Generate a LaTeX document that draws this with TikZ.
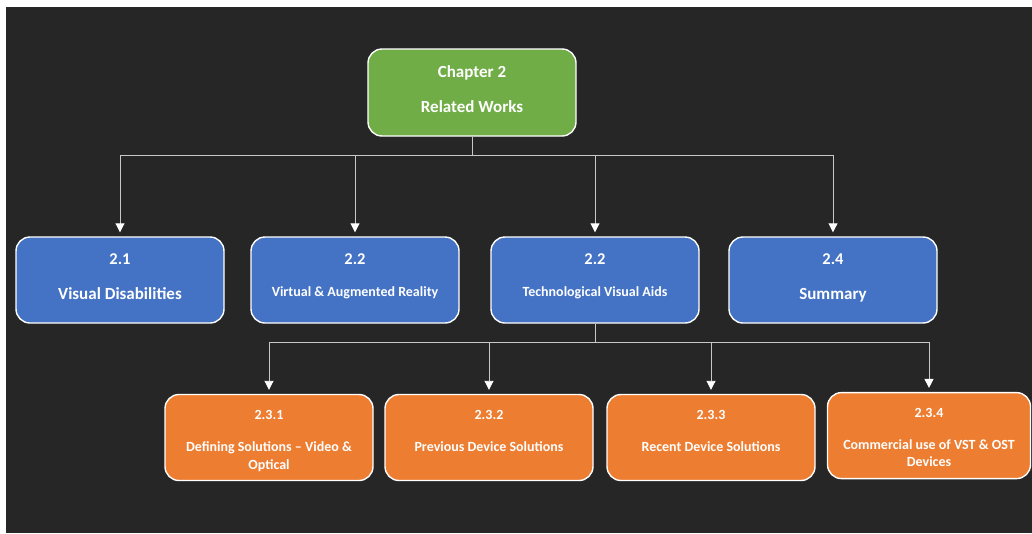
\documentclass[tikz,border=0pt]{standalone}
\usepackage{fontspec}
\setmainfont{Carlito}
\usetikzlibrary{arrows.meta,calc}

\definecolor{pagebg}{HTML}{262626}
\definecolor{chgreen}{HTML}{70AD47}
\definecolor{secblue}{HTML}{4472C4}
\definecolor{suborange}{HTML}{ED7D31}
\definecolor{wire}{HTML}{C8C8C8}

\tikzset{
  card/.style={draw=white, line width=1.4pt, rounded corners=14pt,
    minimum width=208pt, minimum height=86pt, inner sep=0pt},
  chapterbox/.style={card, fill=chgreen, minimum height=87pt},
  sectionbox/.style={card, fill=secblue},
  subbox/.style={card, fill=suborange},
  lbl/.style={text=white, anchor=base, align=center, inner sep=0pt},
  txtbig/.style={lbl, font=\bfseries\fontsize{17}{20}\selectfont},
  txtnum/.style={lbl, font=\bfseries\fontsize{16.5}{20}\selectfont},
  txtsmall/.style={lbl, font=\bfseries\fontsize{14}{17.5}\selectfont},
  wirearrow/.style={draw=wire, line width=0.9pt,
    -{Triangle[width=9pt,length=9pt,color=white]}, shorten >=4pt},
}

\begin{document}
\begin{tikzpicture}[x=1pt, y=-1pt]
  % page and dark canvas
  \useasboundingbox (0,0) rectangle (1032,533);
  \fill[white] (0,0) rectangle (1032,533);
  \fill[pagebg] (6,7) rectangle (1032,533);

  % chapter
  \node[chapterbox] (ch) at (472,92.5) {};
  \node[txtbig] (chnum) at ($(ch.north)+(0,29.5)$) {Chapter 2};
  \node[txtbig] (chtitle) at ($(ch.north)+(0,64)$) {Related Works};

  % sections
  \node[sectionbox] (s21) at (120,280) {};
  \node[sectionbox] (s22) at (355,280) {};
  \node[sectionbox] (s23) at (595,280) {};
  \node[sectionbox] (s24) at (833,280) {};

  \node[txtnum] (s21num) at ($(s21.north)+(0,28)$) {2.1};
  \node[txtbig] (s21title) at ($(s21.north)+(0,63.5)$) {Visual Disabilities};
  \node[txtnum] (s22num) at ($(s22.north)+(0,28)$) {2.2};
  \node[txtsmall] (s22title) at ($(s22.north)+(0,60.5)$) {Virtual \& Augmented Reality};
  \node[txtnum] (s23num) at ($(s23.north)+(0,28)$) {2.2};
  \node[txtsmall] (s23title) at ($(s23.north)+(0,60.5)$) {Technological Visual Aids};
  \node[txtnum] (s24num) at ($(s24.north)+(0,28)$) {2.4};
  \node[txtbig] (s24title) at ($(s24.north)+(0,63.5)$) {Summary};

  % subsections (two-line titles are placed by their last baseline)
  \node[subbox] (u1) at (269,437.5) {};
  \node[subbox] (u2) at (489,437.5) {};
  \node[subbox] (u3) at (711,437.5) {};
  \node[subbox, minimum width=203pt] (u4) at (929,435.6) {};

  \node[txtsmall] (u1num) at ($(u1.north)+(0,26)$) {2.3.1};
  \node[txtsmall] (u1title) at ($(u1.north)+(0,75.2)$) {Defining Solutions -- Video \&\\Optical};
  \node[txtsmall] (u2num) at ($(u2.north)+(0,26)$) {2.3.2};
  \node[txtsmall] (u2title) at ($(u2.north)+(0,57.7)$) {Previous Device Solutions};
  \node[txtsmall] (u3num) at ($(u3.north)+(0,26)$) {2.3.3};
  \node[txtsmall] (u3title) at ($(u3.north)+(0,57.7)$) {Recent Device Solutions};
  \node[txtsmall] (u4num) at ($(u4.north)+(0,26)$) {2.3.4};
  \node[txtsmall] (u4title) at ($(u4.north)+(0,75)$) {Commercial use of VST \& OST\\Devices};

  % connectors
  \coordinate (busA) at (0,155);
  \coordinate (busB) at (0,342);
  \foreach \t in {s21,s22,s23,s24}
    \draw[wirearrow] (ch.south) |- (busA -| \t.north) -- (\t.north);
  \foreach \t in {u1,u2,u3,u4}
    \draw[wirearrow] (s23.south) |- (busB -| \t.north) -- (\t.north);
\end{tikzpicture}
\end{document}
